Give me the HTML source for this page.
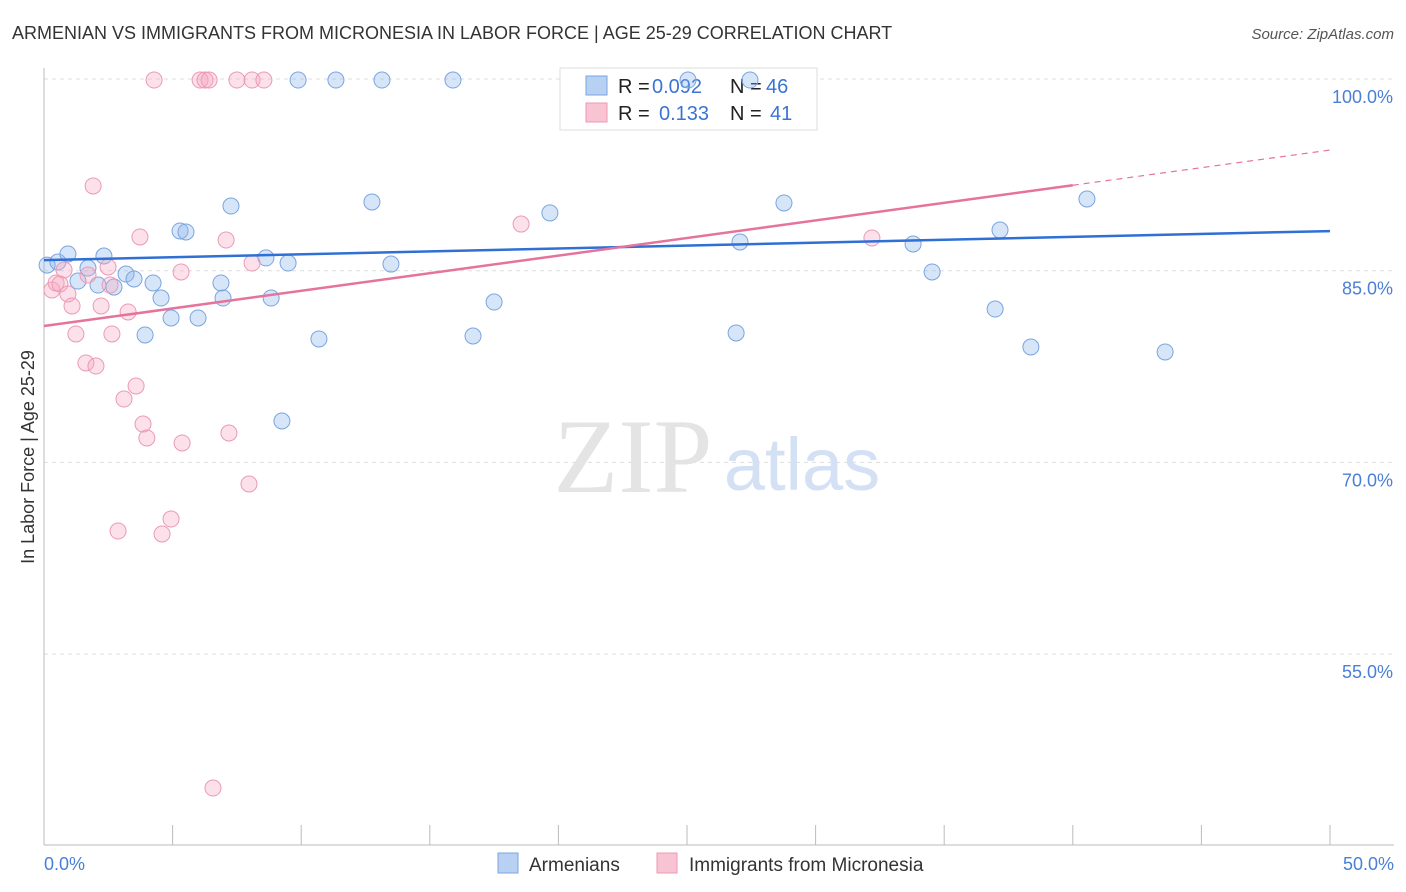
<!DOCTYPE html>
<html><head><meta charset="utf-8"><style>
body{margin:0;background:#fff;font-family:"Liberation Sans",sans-serif;}
svg{display:block}
</style></head><body>
<svg id="c" width="1406" height="892" xmlns="http://www.w3.org/2000/svg"></svg>
<script>
const blueX=[0.12,0.54,0.93,1.32,1.71,2.10,2.33,2.72,3.19,3.50,3.93,4.24,4.55,4.94,5.29,5.52,5.99,6.88,6.96,7.27,8.63,8.83,9.49,9.25,9.88,10.69,11.35,12.75,13.14,13.49,15.90,16.68,17.50,19.67,25.04,26.91,27.06,27.45,28.77,33.79,34.53,36.98,37.17,38.37,40.55,43.59];
const blueY=[85.44,85.68,86.31,84.19,85.21,83.88,86.15,83.72,84.74,84.35,79.97,84.04,82.86,81.30,88.11,88.03,81.30,84.04,82.86,90.06,86.0,82.86,85.60,73.24,99.92,79.66,99.92,90.38,99.92,85.52,99.92,79.89,82.55,89.52,99.92,80.13,87.25,99.92,90.30,87.09,84.90,82.00,88.18,79.03,90.61,78.64];
const pinkX=[0.31,0.47,0.62,0.78,0.93,1.09,1.24,1.63,1.71,1.91,2.02,2.22,2.49,2.57,2.64,2.88,3.11,3.27,3.58,3.73,3.85,4.00,4.28,4.59,4.94,5.33,5.37,6.07,6.26,6.42,6.57,7.08,7.19,7.50,7.97,8.09,8.09,8.55,18.55,32.19];
const pinkY=[83.49,84.04,83.96,85.05,83.18,82.24,80.05,77.78,84.66,91.63,77.54,82.24,85.29,83.88,80.05,64.63,74.96,81.77,75.98,87.64,73.0,71.91,99.92,64.40,65.57,84.90,71.52,99.92,99.92,99.92,44.52,87.40,72.30,99.92,68.31,99.92,85.60,99.92,88.65,87.56];
const blueTrend=[85.83,88.10];
const pinkTrend=[80.67,94.44];
const yTicks=[100,85,70,55];
const yTickLabels=["100.0%","85.0%","70.0%","55.0%"];
const xTickLabels=["0.0%","50.0%"];

const NS="http://www.w3.org/2000/svg";
const svg=document.getElementById('c');
const X=v=>44+v*25.72;
const Y=v=>79+(100-v)*12.78;
function el(t,a,p){const e=document.createElementNS(NS,t);for(const k in a)e.setAttribute(k,a[k]);(p||svg).appendChild(e);return e;}
function txt(s,a){const e=el('text',a);e.textContent=s;return e;}

let t=txt("ARMENIAN VS IMMIGRANTS FROM MICRONESIA IN LABOR FORCE | AGE 25-29 CORRELATION CHART",{x:12,y:39,'font-size':18,fill:'#333'});

t=txt("Source: ZipAtlas.com",{x:1394,y:39,'font-size':15,fill:'#555','font-style':'italic','text-anchor':'end'});


yTicks.forEach((v,i)=>{
 let g=el('line',{x1:44,x2:1394,y1:Y(v),y2:Y(v),stroke:'#ddd','stroke-dasharray':'4,4'});
 
 let l=txt(yTickLabels[i],{x:1393,y:Y(v)+24,'font-size':18,fill:'#4a7fd6','text-anchor':'end'});
 
});
let a=el('line',{x1:44,x2:44,y1:68,y2:845,stroke:'#bbb'});

a=el('line',{x1:44,x2:1394,y1:845,y2:845,stroke:'#bbb'});

for(let i=0;i<=10;i++){let k=el('line',{x1:X(i*5),x2:X(i*5),y1:825,y2:845,stroke:'#bbb'});
 }
t=txt(xTickLabels[0],{x:44,y:870,'font-size':18,fill:'#4a7fd6'});

t=txt(xTickLabels[1],{x:1394,y:870,'font-size':18,fill:'#4a7fd6','text-anchor':'end'});

t=txt("In Labor Force | Age 25-29",{x:34,y:457,'font-size':18,fill:'#333','text-anchor':'middle',transform:'rotate(-90 34 457)'});


t=txt("ZIP",{x:633,y:492,'font-size':106,fill:'#e4e4e4','font-family':'Liberation Serif','text-anchor':'middle'});

t=txt("atlas",{x:802,y:490,'font-size':74,fill:'#d4e1f5','text-anchor':'middle'});


let lg=el('g',{});
el('rect',{x:560,y:68,width:257,height:62,fill:'#fff',stroke:'#ddd'},lg);
el('rect',{x:586,y:76,width:21,height:19,fill:'#b8d1f3',stroke:'#7aa5e0'},lg);
el('rect',{x:586,y:103,width:21,height:19,fill:'#f8c4d4',stroke:'#eb9ab5'},lg);
const lt=(s,x,y,c)=>{const e=el('text',{x:x,y:y,'font-size':20,fill:c},lg);e.textContent=s;};
lt("R =",618,93,'#222');lt("0.092",652,93,'#3a74d4');lt("N =",730,93,'#222');lt("46",766,93,'#3a74d4');
lt("R =",618,120,'#222');lt("0.133",659,120,'#3a74d4');lt("N =",730,120,'#222');lt("41",770,120,'#3a74d4');

blueX.forEach((x,i)=>{let c=el('circle',{cx:X(x),cy:Y(blueY[i]),r:8,fill:'rgba(140,180,235,0.35)',stroke:'#7aa5e0','stroke-width':1});
 });
pinkX.forEach((x,i)=>{let c=el('circle',{cx:X(x),cy:Y(pinkY[i]),r:8,fill:'rgba(245,170,195,0.35)',stroke:'#eb9ab5','stroke-width':1});
 });

let ln=el('line',{x1:X(0),y1:Y(blueTrend[0]),x2:X(50),y2:Y(blueTrend[1]),stroke:'#2f6fd6','stroke-width':2.5});

const pAt=x=>pinkTrend[0]+(pinkTrend[1]-pinkTrend[0])*x/50;
ln=el('line',{x1:X(0),y1:Y(pAt(0)),x2:X(40),y2:Y(pAt(40)),stroke:'#e5739b','stroke-width':2.5});

ln=el('line',{x1:X(40),y1:Y(pAt(40)),x2:X(50),y2:Y(pAt(50)),stroke:'#e5739b','stroke-width':1.2,'stroke-dasharray':'6,5'});


const bl=(x,fill,stroke,label,lx,name)=>{let g=el('g',{});
 el('rect',{x:x,y:853,width:20,height:20,fill:fill,stroke:stroke},g);
 const e=el('text',{x:lx,y:871,'font-size':19,fill:'#333'},g);e.textContent=label;};
bl(498,'#b8d1f3','#7aa5e0','Armenians',529,'legend-entry-armenians');
bl(657,'#f8c4d4','#eb9ab5','Immigrants from Micronesia',689,'legend-entry-micronesia');
</script>
</body></html>
